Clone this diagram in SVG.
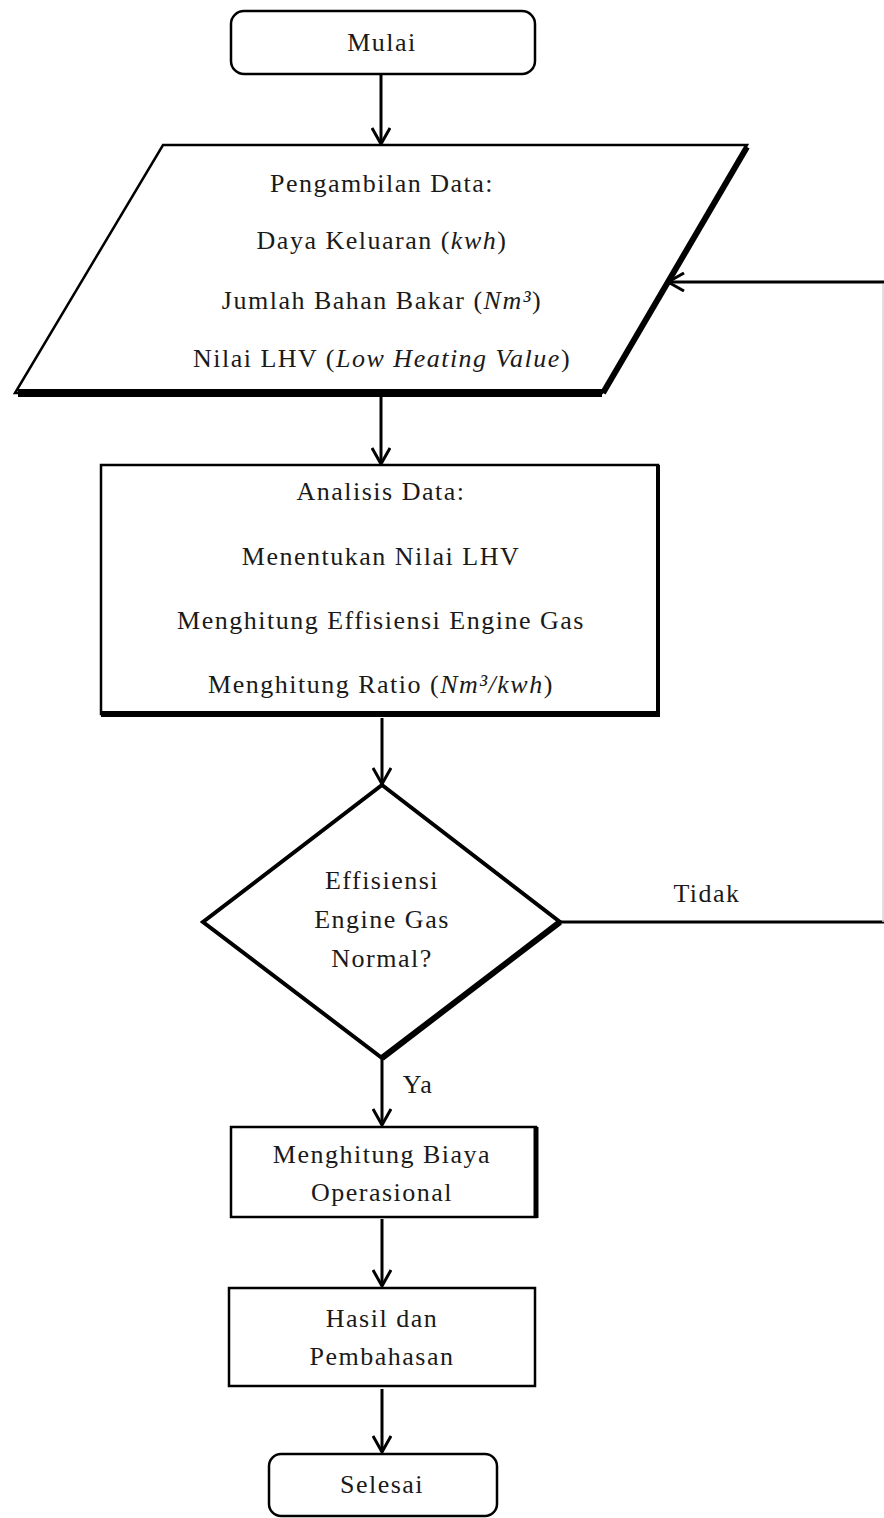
<svg xmlns="http://www.w3.org/2000/svg" width="884" height="1518" viewBox="0 0 884 1518">
<style>
text{font-family:"Liberation Serif","Times New Roman",serif;font-size:26px;fill:#1a1a1a;text-anchor:middle;letter-spacing:1.5px}
.i{font-style:italic}
.thin{fill:none;stroke:#000;stroke-width:2.5}
.thick{fill:none;stroke:#000;stroke-linecap:square}
.con{fill:none;stroke:#000;stroke-width:3}
</style>
<defs>
<marker id="arr" viewBox="0 0 20 20" refX="18" refY="10" markerWidth="20" markerHeight="20" markerUnits="userSpaceOnUse" orient="auto">
<path d="M2,1 L18,10 L2,19" fill="none" stroke="#000" stroke-width="3"/>
</marker>
</defs>
<rect width="884" height="1518" fill="#fff"/>

<g id="connectors">
<line class="con" x1="381" y1="75" x2="381" y2="144" marker-end="url(#arr)"/>
<line class="con" x1="381" y1="397" x2="381" y2="464" marker-end="url(#arr)"/>
<line class="con" x1="382" y1="718" x2="382" y2="784" marker-end="url(#arr)"/>
<line class="con" x1="382" y1="1058" x2="382" y2="1125" marker-end="url(#arr)"/>
<line class="con" stroke-width="2.5" x1="382" y1="1219" x2="382" y2="1286" marker-end="url(#arr)"/>
<line class="con" stroke-width="2.5" x1="382" y1="1389" x2="382" y2="1452" marker-end="url(#arr)"/>
<line class="con" x1="560" y1="922" x2="884" y2="922"/>
<line x1="883" y1="284" x2="883" y2="922" stroke="#d4d4d4" stroke-width="1.5"/>
<line class="con" x1="884" y1="282" x2="668" y2="282" marker-end="url(#arr)"/>
<text x="707" y="902">Tidak</text>
<text x="418" y="1093">Ya</text>
</g>

<g id="mulai">
<rect x="231" y="11" width="304" height="63" rx="13" class="thin" stroke-width="3.5"/>
<text x="382" y="51">Mulai</text>
</g>

<g id="pengambilan">
<polygon points="163,145 747,145 602,393 15,393" class="thin"/>
<line x1="18" y1="393" x2="602" y2="393" stroke="#000" stroke-width="8"/>
<line x1="747" y1="147" x2="603" y2="393" stroke="#000" stroke-width="6"/>
<text x="382" y="192">Pengambilan Data:</text>
<text x="382" y="249">Daya Keluaran (<tspan class="i">kwh</tspan>)</text>
<text x="382" y="309">Jumlah Bahan Bakar (<tspan class="i">Nm³</tspan>)</text>
<text x="382" y="367">Nilai LHV (<tspan class="i">Low Heating Value</tspan>)</text>
</g>

<g id="analisis">
<rect x="101" y="465" width="557" height="249" class="thin" stroke-width="3"/>
<line x1="101" y1="714" x2="660" y2="714" stroke="#000" stroke-width="6"/>
<line x1="658" y1="465" x2="658" y2="716" stroke="#000" stroke-width="4"/>
<text x="381" y="500">Analisis Data:</text>
<text x="381" y="565">Menentukan Nilai LHV</text>
<text x="381" y="629">Menghitung Effisiensi Engine Gas</text>
<text x="381" y="693">Menghitung Ratio (<tspan class="i">Nm³/kwh</tspan>)</text>
</g>

<g id="keputusan">
<polygon points="382,785 560,922 382,1058 203,922" fill="none" stroke="#000" stroke-width="4" stroke-linejoin="miter"/>
<line x1="560" y1="922" x2="382" y2="1058" stroke="#000" stroke-width="6"/>
<text x="382" y="889">Effisiensi</text>
<text x="382" y="928">Engine Gas</text>
<text x="382" y="967">Normal?</text>
</g>

<g id="biaya">
<rect x="231" y="1127" width="305" height="90" class="thin" stroke-width="3.5"/>
<line x1="536" y1="1127" x2="536" y2="1218" stroke="#000" stroke-width="5"/>
<text x="382" y="1163">Menghitung Biaya</text>
<text x="382" y="1201">Operasional</text>
</g>

<g id="hasil">
<rect x="229" y="1288" width="306" height="98" class="thin" stroke-width="4"/>
<text x="382" y="1327">Hasil dan</text>
<text x="382" y="1365">Pembahasan</text>
</g>

<g id="selesai">
<rect x="269" y="1454" width="228" height="62" rx="12" class="thin" stroke-width="3.5"/>
<text x="382" y="1493">Selesai</text>
</g>
</svg>
